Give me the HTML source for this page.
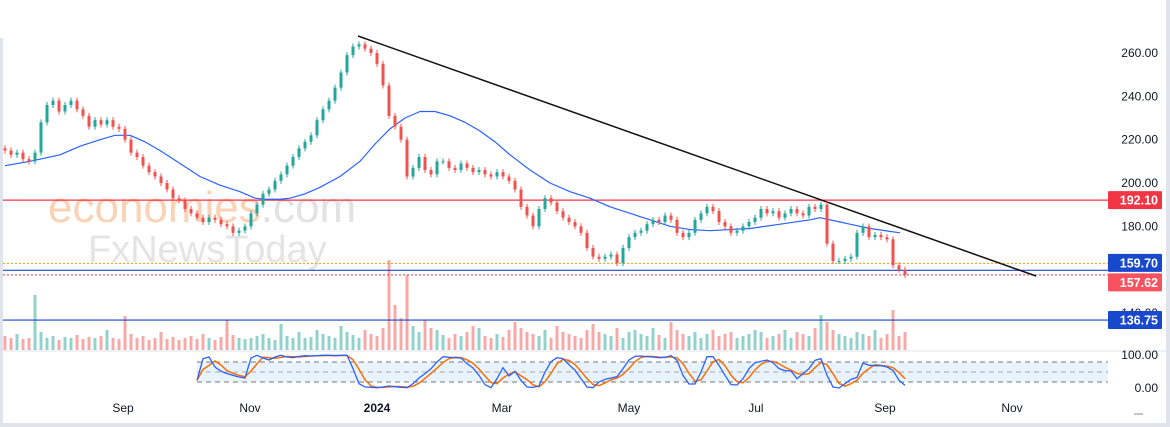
<!DOCTYPE html>
<html><head><meta charset="utf-8"><style>
html,body{margin:0;padding:0;background:#fff;}
svg{display:block;font-family:"Liberation Sans",sans-serif;}
</style></head><body>
<svg id="chart" width="1170" height="427" viewBox="0 0 1170 427">
<rect x="0" y="0" width="1170" height="427" fill="#fff"/>
<rect x="0" y="38" width="3" height="389" fill="#e0e3eb"/>
<rect x="1166" y="0" width="4" height="427" fill="#e0e3eb"/>
<rect x="0" y="423" width="1170" height="4" fill="#e0e3eb"/>
<line x1="0" y1="351" x2="1166" y2="351" stroke="#e0e3eb"/>
<g>
<text x="48" y="222" font-size="44" fill="#fbd2b5">economies<tspan fill="#e2e2e2">.com</tspan></text>
<text x="88" y="262" font-size="38" fill="#e4e4e4">FxNewsToday</text>
</g>
<g id="stochBand"></g>
<g id="vol"></g>
<g id="levels"></g>
<g id="ma"></g>
<g id="candles"></g>
<g id="stoch"></g>
<g id="axes"></g>
</svg>
<script>
const closes=[215,213,214,211,210,214,228,236,238,233,236,238,234,231,226,229,227,229,226,225,
220,214,212,208,205,203,200,197,193,192,188,186,184,182,184,183,181,180,177,178,
180,186,190,195,197,201,204,208,212,216,219,222,229,234,238,244,251,259,263,264,
262,260,255,245,231,226,220,203,207,212,206,204,210,210,207,206,209,207,205,206,
204,203,205,203,201,197,189,185,180,188,193,191,187,184,182,180,177,170,166,165,
166,167,163,170,175,177,178,181,183,182,185,183,177,175,177,183,186,189,187,182,
180,177,178,180,182,184,188,186,187,184,186,188,186,185,189,188,190,172,164,164,
165,166,177,180,175,176,175,174,162,160,157.62];
const firstOpen=216;
const volumes=[14,12,16,11,12,55,18,12,14,10,13,12,15,11,13,12,14,20,12,11,
34,16,12,14,10,12,18,11,13,10,12,14,11,16,12,10,13,30,15,12,
11,12,14,16,12,10,26,14,12,18,12,13,20,16,14,12,24,18,15,12,
20,16,14,22,90,45,32,75,24,18,30,22,20,15,12,16,14,18,24,22,
14,12,16,13,20,28,22,18,16,14,20,12,24,18,16,14,12,20,26,18,
16,14,22,12,18,20,16,14,22,15,12,28,20,16,14,18,12,16,20,14,
16,18,12,14,16,20,18,12,14,16,20,12,18,16,14,22,35,28,20,16,
14,12,18,16,14,20,12,16,40,14,18];
const maValues=[208,210,213,217,220,222,222,219,215,209,203,199,196,193,192.5,192.5,193,195,198,203,210,218,225,230,233,233,231,228,224,219,213,206,200,196,193,189,186,183,180,178.5,178,178.5,179,181,183,184,182,181,179,177];
const maX=[5,30,60,80,100,115,130,145,160,180,200,220,240,255,265,280,290,305,320,340,360,375,390,405,420,435,450,465,480,495,510,530,550,570,590,610,630,650,670,690,710,730,750,780,810,820,840,850,870,900];
const stochStart=32;
const stochK=[25,90,95,65,52,45,40,35,32,92,100,92,86,95,100,95,93,97,99,98,
99,100,100,99,100,100,60,15,5,4,3,5,8,6,4,3,15,32,45,60,
80,96,94,93,92,75,62,40,12,3,30,63,38,52,25,5,4,8,50,81,
93,90,72,55,30,5,3,20,28,32,36,60,86,97,98,96,95,93,94,99,
85,40,14,14,50,96,96,70,40,12,11,30,60,78,82,86,78,60,54,53,
30,45,60,85,90,40,5,2,15,28,34,77,70,69,69,65,55,25,10];
const priceTicks=[260,240,220,200,180,140];
const stochTicks=[100,0];
const monthLabels=["Sep","Nov","2024","Mar","May","Jul","Sep","Nov"];
const monthDays=[35,96,157,217,278,339,401,462];
const levelValues=[192.10,159.70,157.62,136.75];

const NS="http://www.w3.org/2000/svg";
function mk(tag,attrs,parent){const e=document.createElementNS(NS,tag);for(const k in attrs)e.setAttribute(k,attrs[k]);parent.appendChild(e);return e;}
const yP=p=>53+(260-p)*130/60;
const xI=i=>5+6*i;
const xDay=d=>123+(d-35)*(885-123)/(401-35);
const yS=v=>372-(v-50)/3;
const yV=v=>350-v;
const G="#26a69a",R="#ef5350";

const sb=document.getElementById('stochBand');
let r=mk('rect',{x:197,y:yS(80),width:911,height:yS(20)-yS(80),fill:"#e8f3fd"},sb);


[80,50,20].forEach(v=>{const l=mk('line',{x1:197,x2:1108,y1:yS(v),y2:yS(v),stroke:v===50?"#aaa":"#777","stroke-dasharray":"5,4"},sb);

});

const vg=document.getElementById('vol');
volumes.forEach((v,i)=>{const o=i?closes[i-1]:firstOpen;const up=closes[i]>=o;
const b=mk('rect',{x:xI(i)-1.5,y:yV(v),width:3,height:v,fill:up?"#92d2cc":"#f7a9a7"},vg);

});

const lg=document.getElementById('levels');
let ln=mk('line',{x1:3,x2:1108,y1:yP(192.10),y2:yP(192.10),stroke:"#f23645","stroke-width":1.2},lg);


ln=mk('line',{x1:3,x2:1108,y1:yP(159.70)-7,y2:yP(159.70)-7,stroke:"#ff9800","stroke-dasharray":"2,2"},lg);


ln=mk('line',{x1:3,x2:1108,y1:yP(159.70),y2:yP(159.70),stroke:"#1848cc","stroke-width":1.2},lg);


ln=mk('line',{x1:3,x2:1108,y1:yP(157.62),y2:yP(157.62),stroke:"#f23645","stroke-dasharray":"2,2"},lg);


ln=mk('line',{x1:3,x2:1108,y1:yP(136.75),y2:yP(136.75),stroke:"#1848cc","stroke-width":1.2},lg);


ln=mk('line',{x1:358,y1:36,x2:1036,y2:276,stroke:"#111","stroke-width":1.5},lg);



let d="";maValues.forEach((v,i)=>{d+=(i?"L":"M")+maX[i]+","+yP(v);});
const mp=mk('path',{d:d,fill:"none",stroke:"#2962ff","stroke-width":1.2,"stroke-linejoin":"round"},document.getElementById('ma'));



const cg=document.getElementById('candles');
closes.forEach((c,i)=>{const o=i?closes[i-1]:firstOpen;const up=c>=o;const col=up?G:R;
const top=yP(Math.max(o,c)),bot=yP(Math.min(o,c));
const w=mk('line',{x1:xI(i),x2:xI(i),y1:top-3,y2:bot+3,stroke:col,"stroke-width":1},cg);


const b=mk('rect',{x:xI(i)-1.5,y:top,width:3,height:Math.max(1,bot-top),fill:col},cg);

});

const sg=document.getElementById('stoch');
let dk="",dd="";
stochK.forEach((v,j)=>{const x=xI(stochStart+j);dk+=(j?"L":"M")+x+","+yS(v);
const a=stochK.slice(Math.max(0,j-2),j+1);const m=a.reduce((s,q)=>s+q,0)/a.length;dd+=(j?"L":"M")+x+","+yS(m);});
let sp=mk('path',{d:dd,fill:"none",stroke:"#ff6d00","stroke-width":1.5},sg);


sp=mk('path',{d:dk,fill:"none",stroke:"#2962ff","stroke-width":1.3},sg);



const ag=document.getElementById('axes');
priceTicks.forEach(p=>{const t=mk('text',{x:1158,y:yP(p)+4,"font-size":12,fill:"#131722","text-anchor":"end"},ag);t.textContent=p.toFixed(2);

});
stochTicks.forEach(v=>{const t=mk('text',{x:1158,y:(v===100?355:388)+4,"font-size":12,fill:"#131722","text-anchor":"end"},ag);t.textContent=v.toFixed(2);

});
const lcols=["#f23645","#1848cc","#f7525f","#1848cc"];
// collision-avoided label centers: push overlapping labels apart
const centers=levelValues.map(yP);
const gap=19.5;
for(let i=1;i<centers.length;i++){if(centers[i]-centers[i-1]<gap){const mid=(centers[i]+centers[i-1])/2;centers[i-1]=mid-gap/2;centers[i]=mid+gap/2;}}
levelValues.forEach((v,i)=>{const y=centers[i];
const b=mk('rect',{x:1108,y:y-9,width:54,height:18,fill:lcols[i],rx:1},ag);


const t=mk('text',{x:1158,y:y+4.5,"font-size":12.5,fill:"#fff","text-anchor":"end","font-weight":"bold"},ag);t.textContent=v.toFixed(2);

});
monthLabels.forEach((m,i)=>{const t=mk('text',{x:xDay(monthDays[i]),y:412,"font-size":12,fill:"#131722","text-anchor":"middle","font-weight":m==="2024"?"bold":"normal"},ag);t.textContent=m;

});
const dash=mk('line',{x1:1134,x2:1143,y1:414,y2:414,stroke:"#888"},ag);


</script>
</body></html>
